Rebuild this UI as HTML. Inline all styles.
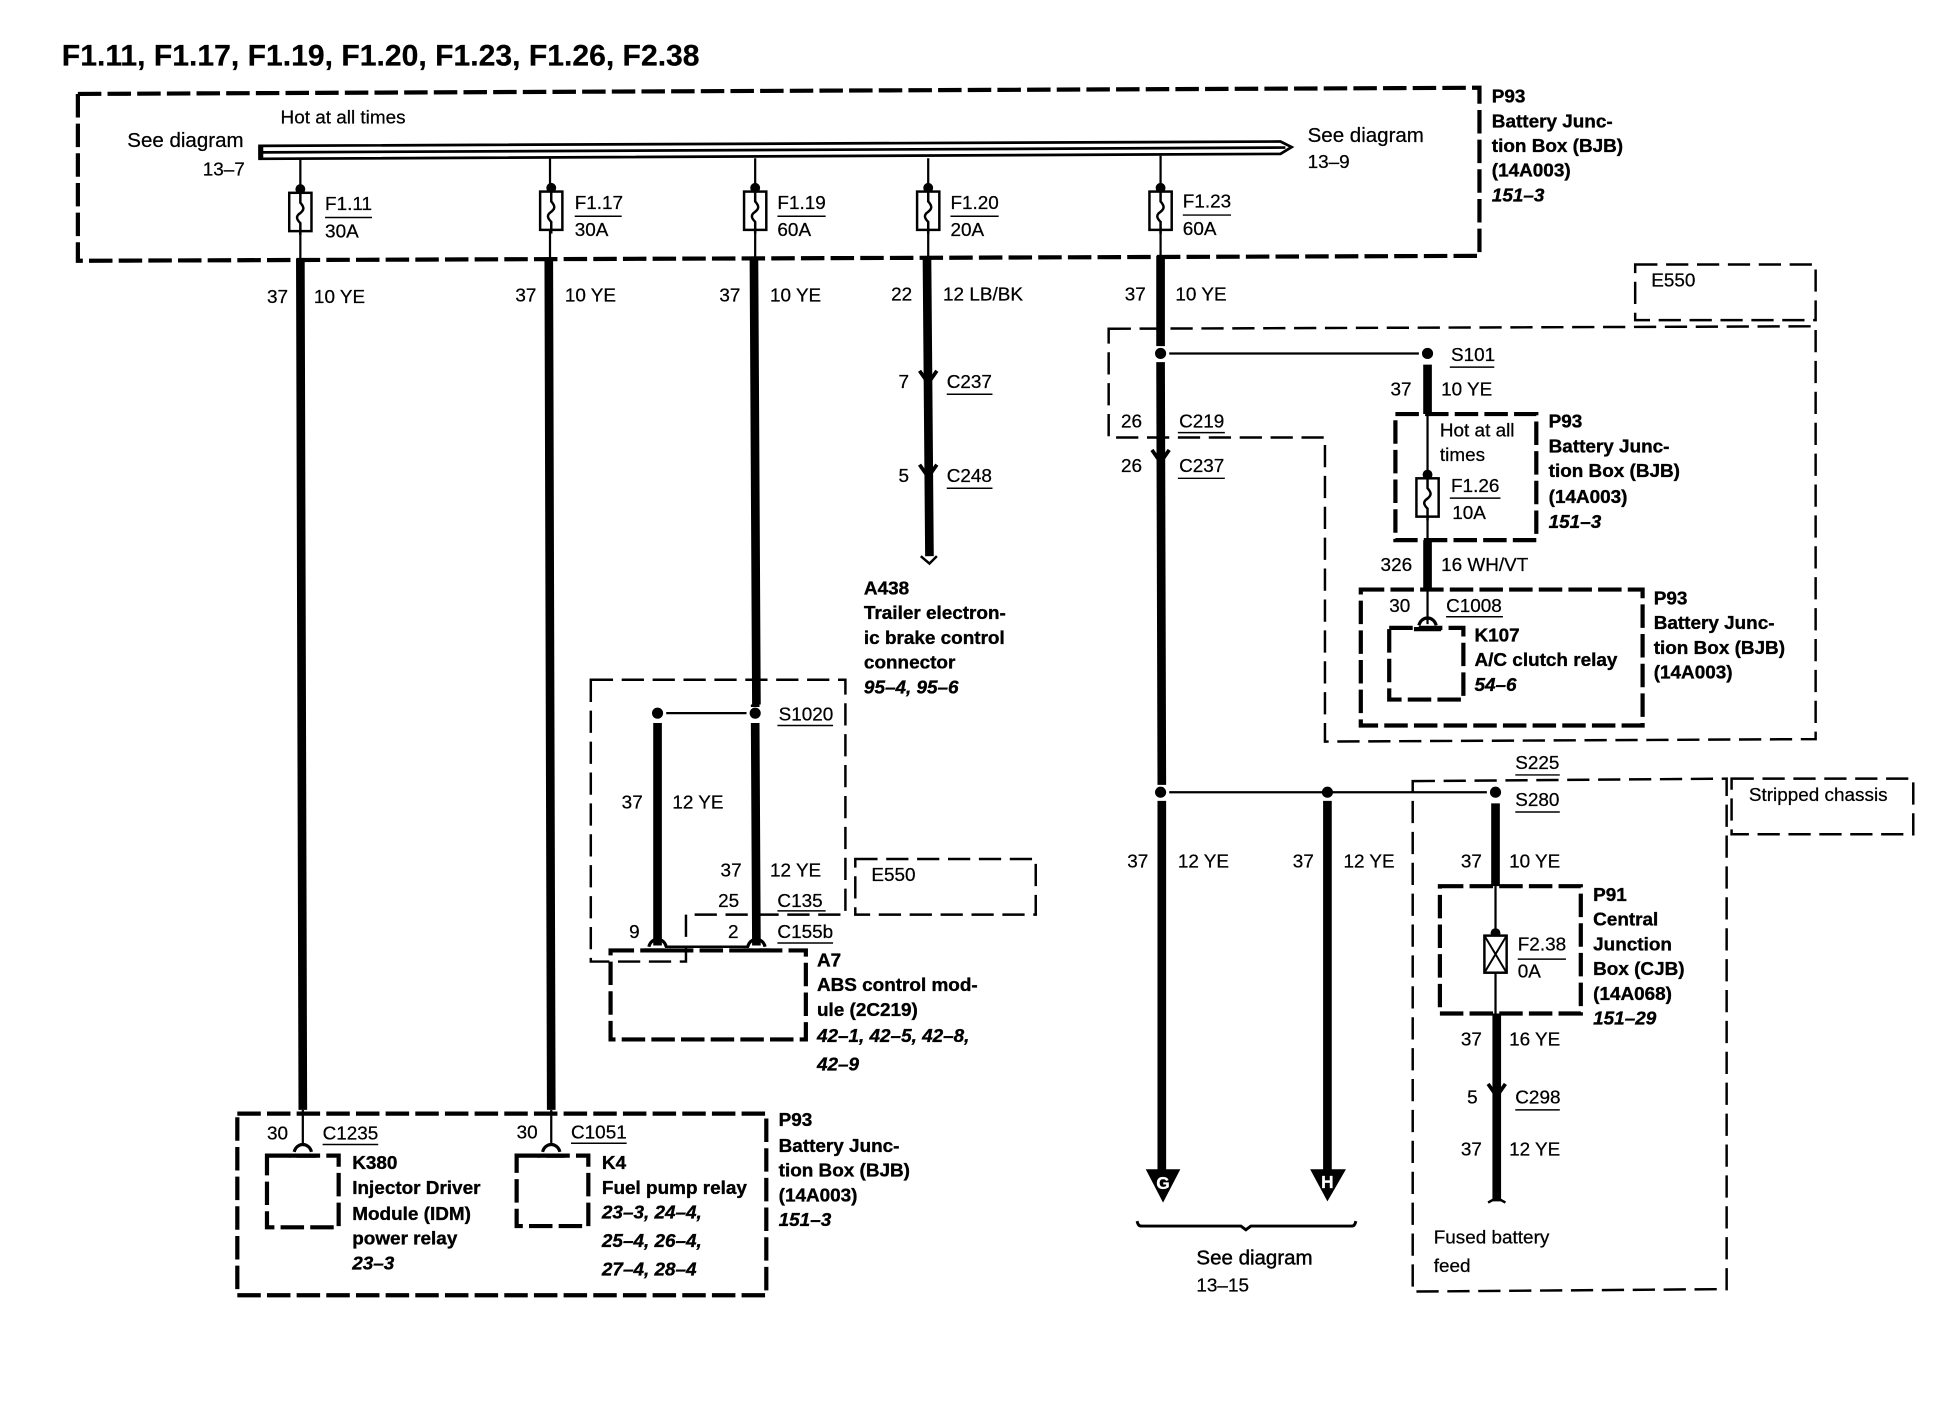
<!DOCTYPE html>
<html><head><meta charset="utf-8"><style>
html,body{margin:0;padding:0;background:#fff}
svg{display:block}
text{font-family:"Liberation Sans",sans-serif;font-size:15.3px;fill:#000;stroke:#000;stroke-width:.2}
.b{font-weight:bold;stroke-width:.3}
.i{font-weight:bold;font-style:italic;stroke-width:.3}
.t{font-weight:bold;font-size:24px}
.s{font-size:16.6px}
.w{fill:#fff;stroke:#fff;font-weight:bold;font-size:14px;text-anchor:middle}
.d1{fill:none;stroke:#000;stroke-width:3.4;stroke-dasharray:19 5}
.d2{fill:none;stroke:#000;stroke-width:2;stroke-dasharray:18 7}
.k{stroke:#000;stroke-width:7;fill:none}
.n{stroke:#000;stroke-width:1.8;fill:none}
.u{stroke:#000;stroke-width:1.2;fill:none}
</style></head><body>
<svg xmlns="http://www.w3.org/2000/svg" width="1938" height="1408" viewBox="0 0 1568 1139.2">
<defs>
<g id="fuse"><circle cx="0" cy="-3" r="4"/><rect x="-9" y="0" width="18" height="31" fill="#fff" stroke="#000" stroke-width="2"/><path d="M0 -3V8C3.5 12 3.5 14 -1.5 17.5C-4 20 -2 22.5 0 24.5V34" fill="none" stroke="#000" stroke-width="2"/></g>
<g id="cap"><path d="M-7 6C-6 2 -3 0 0 0C3 0 6 2 7 6" fill="none" stroke="#000" stroke-width="2.6"/><path d="M-11 9H11" stroke="#000" stroke-width="3.4"/></g>
<g id="chev"><path d="M-7 -7L0 3L7 -7" fill="none" stroke="#000" stroke-width="3"/></g>
</defs>

<text x="50" y="53" class="t" textLength="516" lengthAdjust="spacingAndGlyphs">F1.11, F1.17, F1.19, F1.20, F1.23, F1.26, F2.38</text>

<!-- top box -->
<path class="d1" d="M63 76L1197 71V207L63 211Z"/>
<text x="227" y="100">Hot at all times</text>
<text x="103" y="119" class="s">See diagram</text>
<text x="164" y="142">13–7</text>
<text x="1058" y="115" class="s">See diagram</text>
<text x="1058" y="136">13–9</text>
<!-- bus -->
<path d="M210 118L1036 114.5L1045 119L1036 124.5L210 128.5Z" fill="#fff" stroke="#000" stroke-width="2.2"/>
<path d="M210 123.3L1040 119.4" stroke="#000" stroke-width="2.2"/>
<rect x="209" y="118" width="4" height="10.5"/>

<text x="1207" y="83" class="b">P93</text>
<text x="1207" y="103" class="b">Battery Junc-</text>
<text x="1207" y="123" class="b">tion Box (BJB)</text>
<text x="1207" y="143" class="b">(14A003)</text>
<text x="1207" y="163" class="i">151–3</text>

<!-- thin feeds + fuses -->
<path class="n" d="M243 128V158M243 186V211M445 128V158M445 186V211M611 128V156M611 186V211M751 128V156M751 186V211M939 126V155M939 186V207"/>
<use href="#fuse" x="243" y="156"/>
<use href="#fuse" x="446" y="155"/>
<use href="#fuse" x="611" y="155"/>
<use href="#fuse" x="751" y="155"/>
<use href="#fuse" x="939" y="155"/>
<text x="263" y="170">F1.11</text><path class="u" d="M263 176H301"/><text x="263" y="192">30A</text>
<text x="465" y="169">F1.17</text><path class="u" d="M465 175H503"/><text x="465" y="191">30A</text>
<text x="629" y="169">F1.19</text><path class="u" d="M629 175H668"/><text x="629" y="191">60A</text>
<text x="769" y="169">F1.20</text><path class="u" d="M769 175H808"/><text x="769" y="191">20A</text>
<text x="957" y="168">F1.23</text><path class="u" d="M957 174H996"/><text x="957" y="190">60A</text>

<!-- main verticals -->
<path class="k" d="M243 209L245 898M444 209L446 898M610 209L612 570"/>
<path class="k" d="M750 209L752 450"/>
<path d="M745 450L752 456L758 450" fill="none" stroke="#000" stroke-width="2"/>
<use href="#chev" x="751" y="307"/><use href="#chev" x="751" y="383"/>
<text x="216" y="245">37</text><text x="254" y="245">10 YE</text>
<text x="417" y="244">37</text><text x="457" y="244">10 YE</text>
<text x="582" y="244">37</text><text x="623" y="244">10 YE</text>
<text x="721" y="243">22</text><text x="763" y="243">12 LB/BK</text>
<text x="910" y="243">37</text><text x="951" y="243">10 YE</text>
<text x="727" y="314">7</text><text x="766" y="314">C237</text><path class="u" d="M766 319H803"/>
<text x="727" y="390">5</text><text x="766" y="390">C248</text><path class="u" d="M766 395H803"/>
<text x="699" y="481" class="b">A438</text>
<text x="699" y="501" class="b">Trailer electron-</text>
<text x="699" y="521" class="b">ic brake control</text>
<text x="699" y="541" class="b">connector</text>
<text x="699" y="561" class="i">95–4, 95–6</text>

<!-- S1020 region -->
<path class="d2" d="M478 550H684V740H555V778H478Z"/>
<circle cx="532" cy="577" r="4.5"/><circle cx="611" cy="577" r="4.5"/>
<path class="n" d="M539 577H604"/>
<path class="k" d="M532 585V765M611 585L612 765M611 570V572"/>
<text x="630" y="583">S1020</text><path class="u" d="M629 587H674"/>
<text x="503" y="654">37</text><text x="544" y="654">12 YE</text>
<text x="583" y="709">37</text><text x="623" y="709">12 YE</text>
<text x="581" y="734">25</text><text x="629" y="734">C135</text><path class="u" d="M629 737H668"/>
<text x="509" y="759">9</text><text x="589" y="759">2</text><text x="629" y="759">C155b</text><path class="u" d="M629 763H674"/>
<use href="#cap" x="532" y="760"/><use href="#cap" x="612" y="760"/>
<path d="M538 766H606" stroke="#000" stroke-width="2"/>
<path class="d1" d="M494 769H652V841H494Z"/>
<text x="661" y="782" class="b">A7</text>
<text x="661" y="802" class="b">ABS control mod-</text>
<text x="661" y="822" class="b">ule (2C219)</text>
<text x="661" y="843" class="i">42–1, 42–5, 42–8,</text>
<text x="661" y="866" class="i">42–9</text>
<path class="d2" d="M692 695H838V740H692Z"/>
<text x="705" y="713">E550</text>

<!-- bottom box -->
<path class="d1" d="M192 901H620V1048H192Z"/>
<path class="n" d="M245 898V925M446 898V925"/>
<use href="#cap" x="245" y="926"/><use href="#cap" x="446" y="926"/>
<path class="d1" d="M216 935H274V993H216Z"/>
<path class="d1" d="M418 935H476V992H418Z"/>
<text x="216" y="922">30</text><text x="261" y="922">C1235</text><path class="u" d="M261 926H306"/>
<text x="418" y="921">30</text><text x="462" y="921">C1051</text><path class="u" d="M462 925H507"/>
<text x="285" y="946" class="b">K380</text>
<text x="285" y="966" class="b">Injector Driver</text>
<text x="285" y="987" class="b">Module (IDM)</text>
<text x="285" y="1007" class="b">power relay</text>
<text x="285" y="1027" class="i">23–3</text>
<text x="487" y="946" class="b">K4</text>
<text x="487" y="966" class="b">Fuel pump relay</text>
<text x="487" y="986" class="i">23–3, 24–4,</text>
<text x="487" y="1009" class="i">25–4, 26–4,</text>
<text x="487" y="1032" class="i">27–4, 28–4</text>
<text x="630" y="911" class="b">P93</text>
<text x="630" y="932" class="b">Battery Junc-</text>
<text x="630" y="952" class="b">tion Box (BJB)</text>
<text x="630" y="972" class="b">(14A003)</text>
<text x="630" y="992" class="i">151–3</text>

<!-- right side -->
<path class="d2" d="M1323 214H1469V259H1323Z"/>
<text x="1336" y="232">E550</text>
<path class="d2" d="M897 266L1469 264V598L1072 600V354H897Z"/>
<path class="k" d="M939 207V280M939 293L940 635M940 648V948"/>
<circle cx="939" cy="286" r="4.5"/><circle cx="1155" cy="286" r="4.5"/>
<path class="n" d="M946 286H1148"/>
<use href="#chev" x="939" y="371"/>
<text x="1174" y="292">S101</text><path class="u" d="M1173 297H1209"/>
<text x="1125" y="320">37</text><text x="1166" y="320">10 YE</text>
<path class="k" d="M1155 295V335M1155 437V477"/>
<path class="n" d="M1155 335V388M1155 417V437M1155 477V505"/>
<path class="d1" d="M1129 335H1243V437H1129Z"/>
<use href="#fuse" x="1155" y="387"/>
<text x="1165" y="353">Hot at all</text><text x="1165" y="373">times</text>
<text x="1174" y="398">F1.26</text><path class="u" d="M1173 403H1214"/><text x="1175" y="420">10A</text>
<text x="1253" y="346" class="b">P93</text>
<text x="1253" y="366" class="b">Battery Junc-</text>
<text x="1253" y="386" class="b">tion Box (BJB)</text>
<text x="1253" y="407" class="b">(14A003)</text>
<text x="1253" y="427" class="i">151–3</text>
<text x="1117" y="462">326</text><text x="1166" y="462">16 WH/VT</text>
<path class="d1" d="M1101 477H1329V587H1101Z"/>
<text x="1124" y="495">30</text><text x="1170" y="495">C1008</text><path class="u" d="M1170 499H1216"/>
<use href="#cap" x="1155" y="500"/>
<path class="d1" d="M1124 508H1184V566H1124Z"/>
<text x="1193" y="519" class="b">K107</text>
<text x="1193" y="539" class="b">A/C clutch relay</text>
<text x="1193" y="559" class="i">54–6</text>
<text x="1338" y="489" class="b">P93</text>
<text x="1338" y="509" class="b">Battery Junc-</text>
<text x="1338" y="529" class="b">tion Box (BJB)</text>
<text x="1338" y="549" class="b">(14A003)</text>
<text x="907" y="346">26</text><text x="954" y="346">C219</text><path class="u" d="M953 350H991"/>
<text x="907" y="382">26</text><text x="954" y="382">C237</text><path class="u" d="M953 387H991"/>

<!-- S225 area -->
<circle cx="939" cy="641" r="4.5"/><circle cx="1074" cy="641" r="4.5"/><circle cx="1210" cy="641" r="4.5"/>
<path class="n" d="M946 641H1203"/>
<path class="k" d="M1074 648V948"/>
<path d="M927 946H955L941 973Z"/><path d="M1060 946H1089L1074 972Z"/>
<text x="941" y="962" class="w">G</text><text x="1074" y="961" class="w">H</text>
<text x="912" y="702">37</text><text x="953" y="702">12 YE</text>
<text x="1046" y="702">37</text><text x="1087" y="702">12 YE</text>
<path d="M920 988C921 992 922 992 924 992H1004L1008 995L1012 992H1093C1095 992 1096 992 1097 988" fill="none" stroke="#000" stroke-width="2.4"/>
<text x="968" y="1023" class="s" style="stroke-width:.35">See diagram</text>
<text x="968" y="1045">13–15</text>
<path class="d2" d="M1143 632L1397 630V1043L1143 1045Z"/>
<path class="d2" d="M1401 630H1548V675H1401Z"/>
<text x="1415" y="648">Stripped chassis</text>
<text x="1226" y="622">S225</text><path class="u" d="M1226 627H1262"/>
<text x="1226" y="652">S280</text><path class="u" d="M1226 657H1262"/>
<path class="k" d="M1210 650V717M1211 820V972"/>
<path class="n" d="M1210 717V757M1210 787V820"/>
<path class="d1" d="M1165 717H1279V820H1165Z"/>
<circle cx="1210" cy="755" r="4"/>
<rect x="1201" y="757" width="18" height="30" fill="#fff" stroke="#000" stroke-width="2"/>
<path d="M1201 757L1219 787M1219 757L1201 787" stroke="#000" stroke-width="1.6"/>
<text x="1228" y="769">F2.38</text><path class="u" d="M1228 776H1267"/><text x="1228" y="791">0A</text>
<text x="1182" y="702">37</text><text x="1221" y="702">10 YE</text>
<text x="1182" y="846">37</text><text x="1221" y="846">16 YE</text>
<text x="1187" y="893">5</text><text x="1226" y="893">C298</text><path class="u" d="M1226 898H1262"/>
<text x="1182" y="935">37</text><text x="1221" y="935">12 YE</text>
<use href="#chev" x="1211" y="884"/>
<path d="M1204 973L1211 969L1218 973" fill="none" stroke="#000" stroke-width="2"/>
<text x="1289" y="729" class="b">P91</text>
<text x="1289" y="749" class="b">Central</text>
<text x="1289" y="769" class="b">Junction</text>
<text x="1289" y="789" class="b">Box (CJB)</text>
<text x="1289" y="809" class="b">(14A068)</text>
<text x="1289" y="829" class="i">151–29</text>
<text x="1160" y="1006">Fused battery</text>
<text x="1160" y="1029">feed</text>
</svg>
</body></html>
